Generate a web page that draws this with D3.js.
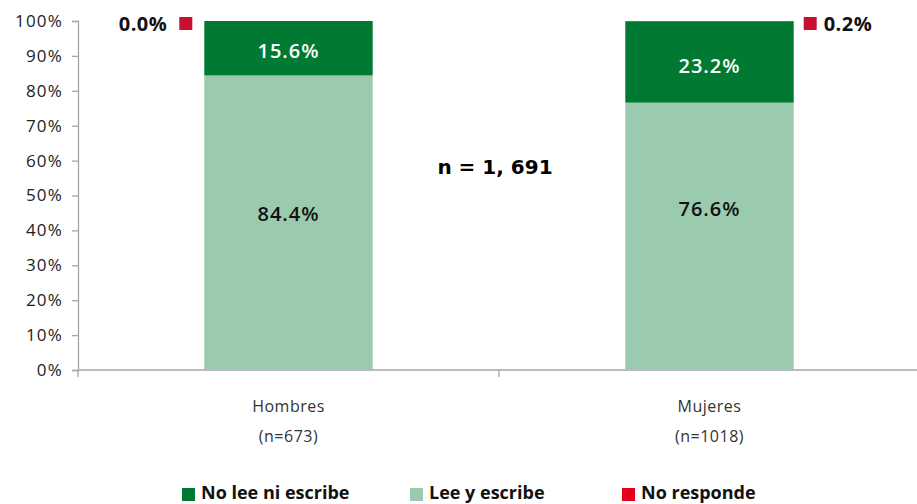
<!DOCTYPE html>
<html>
<head>
<meta charset="utf-8">
<script src="https://cdn.jsdelivr.net/npm/d3@7"></script>
<style>
  html, body { margin: 0; padding: 0; background: #fff; }
  svg { display: block; }
</style>
</head>
<body>
<svg id="chart" width="917" height="504"></svg>
<script>
// Literacy by sex (percent of respondents)
const categories = ["Hombres", "Mujeres"];
const sampleLabels = ["(n=673)", "(n=1018)"];
const leeEscribe = [84.4, 76.6];
const noLee = [15.6, 23.2];
const noResponde = [0.0, 0.2];
const yTicks = [0, 10, 20, 30, 40, 50, 60, 70, 80, 90, 100];
const seriesNames = ["No lee ni escribe", "Lee y escribe", "No responde"];
const totalLabel = "n = 1, 691";

const colors = {
  noLee: "#007a33",
  lee: "#9bcbae",
  noResp: "#c8102e",
  noRespLegend: "#e2001a"
};

const svg = d3.select("#chart");
const plotLeft = 78, plotRight = 920, plotTop = 21, plotBottom = 370;

const x = d3.scaleBand().domain(categories).range([plotLeft, plotRight]).paddingInner(0).paddingOuter(0);
const y = d3.scaleLinear().domain([0, 100]).range([plotBottom, plotTop]);
const barW = x.bandwidth() * 0.4;

// y axis
const yAxis = svg.append("g").attr("transform", `translate(${plotLeft},0)`)
  .call(d3.axisLeft(y).tickValues(yTicks).tickFormat(d => d + "%").tickSize(6).tickPadding(9));
yAxis.select(".domain").attr("stroke", "#a6a6a6").attr("stroke-width", 1.3);
yAxis.selectAll(".tick line").attr("stroke", "#a6a6a6").attr("stroke-width", 1.3);
yAxis.selectAll(".tick text").attr("fill", "#222")
  .style("font-family", "'Open Sans', sans-serif").style("font-weight", "400")
  .style("font-size", "17px").style("letter-spacing", "1.2px");

// x axis baseline with category divider ticks
const xAxisG = svg.append("g").attr("transform", `translate(0,${plotBottom})`);
xAxisG.append("line").attr("x1", plotLeft).attr("x2", plotRight).attr("stroke", "#a6a6a6").attr("stroke-width", 1.3);
const dividers = [x.range()[0], x(categories[1])];
xAxisG.selectAll("line.div").data(dividers).join("line").attr("class", "div")
  .attr("x1", d => d).attr("x2", d => d).attr("y1", 0).attr("y2", 7)
  .attr("stroke", "#a6a6a6").attr("stroke-width", 1.3);

// stacked bars
const stackData = categories.map((c, i) => ({ cat: c, lee: leeEscribe[i], noLee: noLee[i], noResp: noResponde[i] }));
const stack = d3.stack().keys(["lee", "noLee", "noResp"])(stackData);
const fillFor = { lee: colors.lee, noLee: colors.noLee, noResp: colors.noResp };

svg.append("g").selectAll("g").data(stack).join("g")
  .attr("fill", s => fillFor[s.key])
  .selectAll("rect").data(s => s).join("rect")
  .attr("x", d => x(d.data.cat) + (x.bandwidth() - barW) / 2)
  .attr("width", barW)
  .attr("y", d => y(d[1]))
  .attr("height", d => Math.max(0, y(d[0]) - y(d[1])));

// value labels inside the segments (lower labels sit a little above centre)
const fmt = v => v.toFixed(1) + "%";
const lowerLabelShift = { Hombres: -9, Mujeres: -27 };
const upperLabelShift = { Hombres: 3, Mujeres: 4 };
const inner = svg.append("g").style("font-family", "'Open Sans', sans-serif").style("font-weight", "600")
  .style("font-size", "20px").style("letter-spacing", "1px").attr("text-anchor", "middle");
stackData.forEach(d => {
  const cx = x(d.cat) + x.bandwidth() / 2;
  inner.append("text").attr("x", cx).attr("y", y(d.lee / 2) + lowerLabelShift[d.cat]).attr("dy", "0.35em").attr("fill", "#111").text(fmt(d.lee));
  inner.append("text").attr("x", cx).attr("y", y(d.lee + d.noLee / 2) + upperLabelShift[d.cat]).attr("dy", "0.35em").attr("fill", "#fff").text(fmt(d.noLee));
});

// "No responde" callouts beside each bar
const callout = svg.append("g").style("font-family", "'Open Sans', sans-serif").style("font-weight", "700")
  .style("font-size", "20px").style("letter-spacing", "0.5px").attr("fill", "#111");
{
  const bx = x(categories[0]) + (x.bandwidth() - barW) / 2;
  callout.append("rect").attr("x", bx - 25).attr("y", 17).attr("width", 13).attr("height", 13).attr("fill", colors.noResp);
  callout.append("text").attr("x", bx - 37).attr("y", 24).attr("dy", "0.35em").attr("text-anchor", "end").text(fmt(noResponde[0]));
}
{
  const bx = x(categories[1]) + (x.bandwidth() + barW) / 2;
  callout.append("rect").attr("x", bx + 10).attr("y", 17).attr("width", 13).attr("height", 13).attr("fill", colors.noResp);
  callout.append("text").attr("x", bx + 30).attr("y", 24).attr("dy", "0.35em").attr("text-anchor", "start").text(fmt(noResponde[1]));
}

// total sample label
svg.append("text").attr("x", x(categories[1]) - 4).attr("y", 167).attr("dy", "0.35em").attr("text-anchor", "middle")
  .style("font-family", "'DejaVu Sans', sans-serif").style("font-weight", "700").style("font-size", "20px").attr("fill", "#000")
  .text(totalLabel);

// category labels
const catG = svg.append("g").style("font-family", "'Open Sans', sans-serif").style("font-weight", "400")
  .style("font-size", "16px").style("letter-spacing", "0.5px").attr("fill", "#333").attr("text-anchor", "middle");
categories.forEach((c, i) => {
  const cx = x(c) + x.bandwidth() / 2;
  catG.append("text").attr("x", cx).attr("y", 406).attr("dy", "0.35em").text(c);
  catG.append("text").attr("x", cx).attr("y", 436).attr("dy", "0.35em").text(sampleLabels[i]);
});

// legend
const legendItems = [
  { name: seriesNames[0], color: colors.noLee, x: 182 },
  { name: seriesNames[1], color: colors.lee, x: 410 },
  { name: seriesNames[2], color: colors.noRespLegend, x: 622 }
];
const lg = svg.append("g").style("font-family", "'Open Sans', sans-serif").style("font-weight", "700")
  .style("font-size", "18px").attr("fill", "#111");
legendItems.forEach(it => {
  lg.append("rect").attr("x", it.x).attr("y", 488).attr("width", 13).attr("height", 13).attr("fill", it.color);
  lg.append("text").attr("x", it.x + 19).attr("y", 493).attr("dy", "0.35em").text(it.name);
});
</script>
</body>
</html>
